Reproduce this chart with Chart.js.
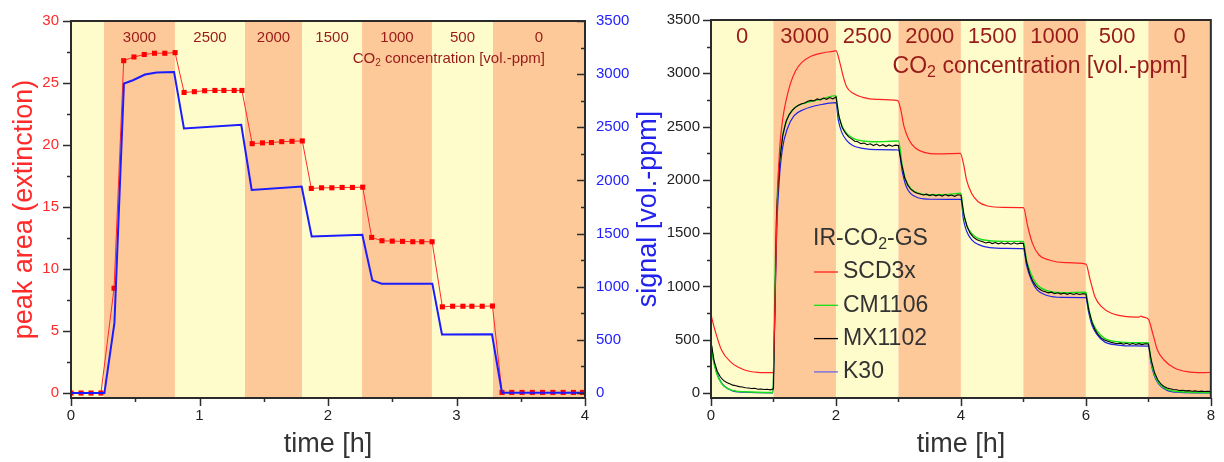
<!DOCTYPE html>
<html><head><meta charset="utf-8">
<script src="https://cdn.jsdelivr.net/npm/chart.js@4.4.1/dist/chart.umd.min.js"></script>
<style>
html,body{margin:0;padding:0;background:#fff;width:1224px;height:462px;overflow:hidden}
#c1{position:absolute;left:0;top:0}
#c2{position:absolute;left:620px;top:0}
</style></head><body>
<canvas id="c1" width="666" height="462"></canvas>
<canvas id="c2" width="604" height="462"></canvas>
<script>
// ---------- LEFT CHART DATA ----------
const leftBandEdges = [0, 0.257, 0.809, 1.354, 1.798, 2.265, 2.809, 3.284, 4];
const leftBandLabels = ['', '3000', '2500', '2000', '1500', '1000', '500', '0'];
// peak area (extinction), red squares
const peakTime = [0, 0.078, 0.156, 0.233, 0.335, 0.41, 0.49, 0.57, 0.65, 0.73, 0.81, 0.88, 0.96, 1.04, 1.12, 1.19, 1.27, 1.33, 1.41, 1.49, 1.56, 1.64, 1.72, 1.80, 1.87, 1.95, 2.03, 2.11, 2.19, 2.27, 2.34, 2.42, 2.50, 2.58, 2.66, 2.73, 2.81, 2.89, 2.97, 3.05, 3.12, 3.20, 3.28, 3.354, 3.43, 3.51, 3.59, 3.67, 3.75, 3.83, 3.91, 3.98];
const peakArea = [0, 0, 0, 0, 8.45, 26.8, 27.1, 27.3, 27.4, 27.4, 27.45, 24.24, 24.3, 24.38, 24.4, 24.4, 24.4, 24.4, 20.11, 20.17, 20.2, 20.27, 20.3, 20.33, 16.5, 16.55, 16.55, 16.58, 16.58, 16.6, 12.55, 12.28, 12.25, 12.23, 12.2, 12.2, 12.2, 6.95, 7.0, 7.0, 7.0, 7.0, 7.02, 0.05, 0.05, 0.05, 0.05, 0.05, 0.05, 0.05, 0.05, 0.05];
// reference signal [vol.-ppm], blue line
const signalTime = [0, 0.26, 0.338, 0.412, 0.482, 0.576, 0.667, 0.802, 0.879, 1.325, 1.406, 1.795, 1.873, 2.267, 2.345, 2.418, 2.812, 2.887, 3.276, 3.354, 4.0];
const signalPpm = [0, 0, 660, 2912, 2943, 2996, 3015, 3021, 2489, 2524, 1911, 1942, 1473, 1489, 1060, 1029, 1029, 551, 553, 3, 3];
const leftXMajor = [0, 1, 2, 3, 4];
const leftXMinor = [0.5, 1.5, 2.5, 3.5];
const leftYMajor = [0, 5, 10, 15, 20, 25, 30];
const leftYMinor = [2.5, 7.5, 12.5, 17.5, 22.5, 27.5];
const ppmMajor = [0, 500, 1000, 1500, 2000, 2500, 3000, 3500];
const ppmMinor = [250, 750, 1250, 1750, 2250, 2750, 3250];

// ---------- RIGHT CHART DATA ----------
const rightBandEdges = [0, 1, 2, 3, 4, 5, 6, 7, 8];
const rightBandLabels = ['0', '3000', '2500', '2000', '1500', '1000', '500', '0'];
const seriesNames = ['SCD3x', 'CM1106', 'MX1102', 'K30'];
const scdTime = [0, 0.063, 0.168, 0.326, 0.537, 0.748, 0.99, 1.03, 1.06, 1.1, 1.15, 1.2, 1.27, 1.35, 1.45, 1.6, 1.8, 1.95, 2.0, 2.065, 2.117, 2.17, 2.275, 2.43, 2.643, 2.99, 3.038, 3.09, 3.17, 3.275, 3.433, 3.59, 3.99, 4.04, 4.09, 4.17, 4.276, 4.43, 4.67, 5.0, 5.07, 5.145, 5.25, 5.41, 5.67, 6.0, 6.07, 6.145, 6.25, 6.41, 6.67, 6.85, 6.88, 6.92, 7.0, 7.07, 7.145, 7.25, 7.41, 7.62, 7.88, 8.0];
const scdPpm = [732, 591, 403, 285, 216, 194, 191, 1000, 1800, 2300, 2580, 2740, 2900, 3020, 3100, 3160, 3193, 3205, 3212, 3093, 2968, 2874, 2812, 2774, 2756, 2743, 2655, 2499, 2374, 2296, 2255, 2243, 2249, 2155, 1999, 1874, 1795, 1755, 1742, 1739, 1561, 1404, 1295, 1248, 1223, 1210, 1060, 904, 810, 748, 716, 712, 722, 712, 694, 560, 403, 310, 238, 200, 191, 194];
const ndirTime = [0, 0.037, 0.09, 0.168, 0.326, 0.537, 0.99, 1.027, 1.053, 1.09, 1.143, 1.222, 1.327, 1.485, 1.748, 2.0, 2.038, 2.09, 2.17, 2.275, 2.43, 2.643, 3.0, 3.064, 3.117, 3.196, 3.327, 3.54, 3.8, 4.0, 4.04, 4.09, 4.17, 4.276, 4.46, 4.72, 5.0, 5.05, 5.118, 5.224, 5.38, 5.62, 6.0, 6.04, 6.09, 6.17, 6.3, 6.51, 6.78, 7.0, 7.04, 7.09, 7.17, 7.3, 7.51, 8.0];
const cmPpm = [480, 310, 185, 91, 28, 12, 5, 1123, 1748, 2124, 2405, 2577, 2671, 2718, 2755, 2790, 2624, 2515, 2436, 2390, 2365, 2358, 2365, 2124, 1999, 1920, 1874, 1860, 1864, 1874, 1686, 1576, 1498, 1452, 1429, 1423, 1423, 1248, 1123, 1013, 960, 941, 945, 810, 685, 591, 513, 481, 472, 472, 310, 185, 91, 34, 12, 3];
const k30Ppm = [470, 320, 195, 95, 25, 8, 2, 900, 1550, 1980, 2290, 2480, 2600, 2660, 2705, 2725, 2560, 2450, 2370, 2320, 2295, 2283, 2280, 2070, 1950, 1870, 1830, 1818, 1817, 1817, 1630, 1520, 1440, 1395, 1365, 1358, 1355, 1200, 1075, 965, 915, 898, 895, 770, 650, 555, 480, 450, 442, 440, 290, 170, 80, 25, 6, 0];
const mxStep = 0.05; // sampling interval [h] of the MX1102 record
const mxPpm = [
 480, 300, 205, 150, 118, 98, 88, 74, 68, 60, 56, 50, 47, 42, 44, 36, 38, 33, 35, 30,
 40, 1700, 2180, 2420, 2545, 2610, 2652, 2680, 2700, 2714, 2722, 2738, 2746, 2740, 2760, 2750, 2768, 2756, 2772, 2760,
 2778, 2590, 2490, 2440, 2405, 2385, 2362, 2358, 2340, 2346, 2330, 2338, 2322, 2336, 2318, 2330, 2315, 2328, 2316, 2326,
 2322, 2150, 2020, 1950, 1910, 1888, 1875, 1868, 1858, 1866, 1852, 1862, 1850, 1860, 1848, 1862, 1850, 1858, 1846, 1860,
 1856, 1670, 1560, 1498, 1462, 1440, 1428, 1420, 1408, 1416, 1402, 1412, 1400, 1410, 1398, 1408, 1396, 1410, 1398, 1406,
 1404, 1230, 1120, 1050, 1005, 978, 960, 950, 940, 946, 932, 940, 928, 938, 926, 936, 925, 934, 924, 932,
 930, 770, 660, 590, 545, 515, 497, 485, 476, 470, 462, 468, 458, 466, 455, 464, 456, 463, 454, 462,
 460, 300, 190, 125, 85, 62, 48, 40, 33, 30, 24, 26, 20, 22, 17, 20, 15, 18, 14, 16, 13];
const rightXMajor = [0, 2, 4, 6, 8];
const rightXMinor = [1, 3, 5, 7];

// ---------- helpers ----------
const FONT = "'Liberation Sans', Arial, Helvetica, sans-serif";
const pts = (xs, ys) => xs.map((x, i) => ({x, y: ys[i]}));
const YELLOW = '#fffccb', ORANGE = '#fdc999', DARKRED = '#981a1a', AXIS = '#2b2b2b';
const plainLabel = v => String(v);

function drawSub(ctx, parts, x, y, size, align, color) {
  const big = size + 'px ' + FONT, small = Math.round(size * 0.68) + 'px ' + FONT;
  ctx.font = big; const w0 = ctx.measureText(parts[0]).width, w2 = ctx.measureText(parts[2]).width;
  ctx.font = small; const w1 = ctx.measureText(parts[1]).width;
  let sx = align === 'right' ? x - (w0 + w1 + w2) : x;
  ctx.fillStyle = color; ctx.textAlign = 'left'; ctx.textBaseline = 'middle';
  ctx.font = big; ctx.fillText(parts[0], sx, y);
  ctx.font = small; ctx.fillText(parts[1], sx + w0, y + size * 0.26);
  ctx.font = big; ctx.fillText(parts[2], sx + w0 + w1, y);
}

const decorPlugin = {
  id: 'decor',
  beforeDraw(chart, args, o) {
    const {ctx, chartArea: a} = chart; const x = chart.scales.x;
    ctx.save();
    for (let i = 0; i < o.edges.length - 1; i++) {
      const x0 = x.getPixelForValue(o.edges[i]), x1 = x.getPixelForValue(o.edges[i + 1]);
      ctx.fillStyle = i % 2 === 0 ? YELLOW : ORANGE;
      ctx.fillRect(x0, a.top, x1 - x0, a.bottom - a.top);
      if (o.labels[i]) {
        ctx.fillStyle = DARKRED; ctx.font = o.labelSize + 'px ' + FONT;
        ctx.textAlign = 'center'; ctx.textBaseline = 'middle';
        ctx.fillText(o.labels[i], (x0 + x1) / 2, a.top + o.labelY);
      }
    }
    drawSub(ctx, ['CO', '2', ' concentration [vol.-ppm]'], a.right - o.concRight, a.top + o.concY, o.concSize, 'right', DARKRED);
    ctx.restore();
  },
  afterDraw(chart, args, o) {
    const {ctx, chartArea: a} = chart;
    ctx.save();
    ctx.strokeStyle = AXIS; ctx.lineWidth = 1.5;
    for (const t of o.ticks) {
      const s = chart.scales[t.axis];
      const draw = (vals, len) => vals.forEach(v => {
        const p = Math.round(s.getPixelForValue(v)) + 0.5;
        ctx.beginPath();
        if (t.side === 'bottom') { ctx.moveTo(p, a.bottom); ctx.lineTo(p, a.bottom + len); }
        else if (t.side === 'left') { ctx.moveTo(a.left, p); ctx.lineTo(a.left - len, p); }
        else { ctx.moveTo(a.right, p); ctx.lineTo(a.right - len, p); }
        ctx.stroke();
      });
      draw(t.major, 8); draw(t.minor, 4);
    }
    ctx.lineWidth = 2;
    ctx.strokeRect(a.left, a.top, a.right - a.left, a.bottom - a.top);
    ctx.restore();
  }
};

const legendPlugin = {
  id: 'innerLegend',
  afterDatasetsDraw(chart, args, o) {
    if (!o.show) return;
    const {ctx, chartArea: a} = chart;
    ctx.save();
    drawSub(ctx, ['IR-CO', '2', '-GS'], a.left + 102, 239, 23, 'left', '#333');
    o.order.forEach((di, k) => {
      const ds = chart.data.datasets[di];
      const y = 272 + k * 33.3;
      ctx.strokeStyle = ds.legendColor || ds.borderColor; ctx.lineWidth = 1.3;
      ctx.beginPath(); ctx.moveTo(a.left + 103, y); ctx.lineTo(a.left + 127, y); ctx.stroke();
      ctx.fillStyle = '#333'; ctx.font = '23px ' + FONT; ctx.textAlign = 'left'; ctx.textBaseline = 'middle';
      ctx.fillText(ds.label, a.left + 132, y);
    });
    ctx.restore();
  }
};

const setTicks = vals => (s) => { s.ticks = vals.map(v => ({value: v})); };

// ---------- LEFT CHART ----------
new Chart(document.getElementById('c1'), {
  type: 'line',
  data: {datasets: [
    {label: 'signal', data: pts(signalTime, signalPpm), yAxisID: 'y1', borderColor: '#1c1cff', borderWidth: 2, pointRadius: 0, tension: 0},
    {label: 'peak area', data: pts(peakTime, peakArea), yAxisID: 'y', borderColor: '#ff2a2a', borderWidth: 1, tension: 0,
     pointStyle: 'rect', pointRadius: 3.6, pointBackgroundColor: '#ff0000', pointBorderWidth: 0}
  ]},
  plugins: [decorPlugin],
  options: {
    responsive: false, animation: false, devicePixelRatio: 1,
    layout: {padding: {top: 20, left: 0, right: 0, bottom: 0}},
    plugins: {legend: {display: false}, tooltip: {enabled: false},
      decor: {edges: leftBandEdges, labels: leftBandLabels, labelSize: 15, labelY: 17, concSize: 15, concY: 38, concRight: 40,
        ticks: [{axis: 'x', side: 'bottom', major: leftXMajor, minor: leftXMinor},
                {axis: 'y', side: 'left', major: leftYMajor, minor: leftYMinor},
                {axis: 'y1', side: 'right', major: ppmMajor, minor: ppmMinor}]}},
    scales: {
      x: {type: 'linear', min: 0, max: 4, afterBuildTicks: setTicks(leftXMajor),
        afterFit(s) { s.height = 64; },
        grid: {display: false, drawTicks: false}, border: {display: false},
        ticks: {padding: 9, color: '#222', font: {family: FONT, size: 15}, callback: plainLabel},
        title: {display: true, text: 'time [h]', color: '#333', font: {family: FONT, size: 27}, padding: {top: 0, bottom: 1}}},
      y: {type: 'linear', position: 'left', min: -0.4, max: 30, afterBuildTicks: setTicks(leftYMajor),
        afterFit(s) { s.width = 71; },
        grid: {display: false, drawTicks: false}, border: {display: false},
        ticks: {padding: 12, color: '#ff2a2a', font: {family: FONT, size: 15}, callback: plainLabel},
        title: {display: true, text: 'peak area (extinction)', color: '#ff2a2a', font: {family: FONT, size: 27}, padding: {top: 8, bottom: 0}}},
      y1: {type: 'linear', position: 'right', min: -46.7, max: 3500, afterBuildTicks: setTicks(ppmMajor),
        afterFit(s) { s.width = 81; },
        grid: {display: false, drawTicks: false}, border: {display: false},
        ticks: {padding: 11, color: '#2020ff', font: {family: FONT, size: 15}, callback: plainLabel}}
    }
  }
});

// ---------- RIGHT CHART ----------
new Chart(document.getElementById('c2'), {
  type: 'line',
  data: {datasets: [
    {label: seriesNames[0], data: pts(scdTime, scdPpm), borderColor: '#ff2020', borderWidth: 1.2, pointRadius: 0, cubicInterpolationMode: 'monotone', order: 0},
    {label: seriesNames[1], data: pts(ndirTime, cmPpm), borderColor: '#18e018', borderWidth: 1.4, pointRadius: 0, cubicInterpolationMode: 'monotone', order: 2},
    {label: seriesNames[2], data: mxPpm.map((v, i) => ({x: i * mxStep, y: v})), borderColor: '#000000', borderWidth: 1.1, pointRadius: 0, tension: 0, order: 1},
    {label: seriesNames[3], data: pts(ndirTime, k30Ppm), borderColor: '#2222e6', legendColor: '#6a6ae8', borderWidth: 1.2, pointRadius: 0, cubicInterpolationMode: 'monotone', order: 3}
  ]},
  plugins: [decorPlugin, legendPlugin],
  options: {
    responsive: false, animation: false, devicePixelRatio: 1,
    layout: {padding: {top: 20, left: 0, right: 6, bottom: 0}},
    plugins: {legend: {display: false}, tooltip: {enabled: false},
      innerLegend: {show: true, order: [0, 1, 2, 3]},
      decor: {edges: rightBandEdges, labels: rightBandLabels, labelSize: 22, labelY: 17, concSize: 23, concY: 47, concRight: 23,
        ticks: [{axis: 'x', side: 'bottom', major: rightXMajor, minor: rightXMinor},
                {axis: 'y', side: 'left', major: ppmMajor, minor: ppmMinor}]}},
    scales: {
      x: {type: 'linear', min: 0, max: 8, afterBuildTicks: setTicks(rightXMajor),
        afterFit(s) { s.height = 64; },
        grid: {display: false, drawTicks: false}, border: {display: false},
        ticks: {padding: 9, color: '#222', font: {family: FONT, size: 15}, callback: plainLabel},
        title: {display: true, text: 'time [h]', color: '#333', font: {family: FONT, size: 27}, padding: {top: 0, bottom: 1}}},
      y: {type: 'linear', position: 'left', min: -46.7, max: 3500, afterBuildTicks: setTicks(ppmMajor),
        afterFit(s) { s.width = 91; },
        grid: {display: false, drawTicks: false}, border: {display: false},
        ticks: {padding: 11, color: '#222', font: {family: FONT, size: 15}, callback: plainLabel},
        title: {display: true, text: 'signal [vol.-ppm]', color: '#2222ee', font: {family: FONT, size: 27}, padding: {top: 12, bottom: 0}}}
    }
  }
});
</script>
</body></html>
